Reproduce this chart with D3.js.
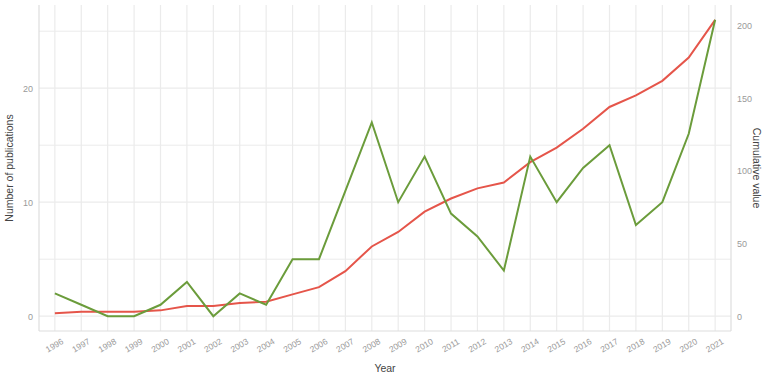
<!DOCTYPE html>
<html>
<head>
<meta charset="utf-8">
<script src="https://cdn.jsdelivr.net/npm/d3@7"></script>
<style>
  body { margin: 0; background: #fff; }
  svg { display: block; font-family: "Liberation Sans", Arial, sans-serif; }
</style>
</head>
<body>
<div id="chart"></div>
<script>
var years = ["1996", "1997", "1998", "1999", "2000", "2001", "2002", "2003", "2004", "2005", "2006", "2007", "2008",
  "2009", "2010", "2011", "2012", "2013", "2014", "2015", "2016", "2017", "2018", "2019", "2020", "2021"];
var publications = [2, 1, 0, 0, 1, 3, 0, 2, 1, 5, 5, 11, 17, 10, 14, 9, 7, 4, 14, 10, 13, 15, 8, 10, 16, 26];
var cumulative = [2, 3, 3, 3, 4, 7, 7, 9, 10, 15, 20, 31, 48, 58, 72, 81, 88, 92, 106, 116, 129, 144, 152, 162, 178, 204];
var leftTicks = [0, 10, 20];
var leftMinor = [5, 15, 25];
var rightTicks = [0, 50, 100, 150, 200];

var width = 768, height = 379;
var margin = { top: 5, left: 39, bottom: 48, right: 37 };
var plotW = width - margin.left - margin.right;
var plotH = height - margin.top - margin.bottom;

var svg = d3.select("#chart")
  .append("svg")
  .attr("width", width)
  .attr("height", height);

var g = svg.append("g")
  .attr("transform", "translate(" + margin.left + "," + margin.top + ")");

// discrete x with ggplot-like 0.6 expansion
var x = d3.scalePoint()
  .domain(years)
  .range([0, plotW])
  .padding(0.6);

var maxPub = d3.max(publications);
var maxCum = d3.max(cumulative);
var expand = maxPub * 0.05;
var y = d3.scaleLinear()
  .domain([-expand, maxPub + expand])
  .range([plotH, 0]);

// secondary axis scaled so cumulative max meets the annual max
var k = maxCum / maxPub;
var yRight = d3.scaleLinear()
  .domain([-expand * k, (maxPub + expand) * k])
  .range([plotH, 0]);

var gridColor = "#ebebeb";

// minor grid
g.selectAll(".minor")
  .data(leftMinor)
  .enter()
  .append("line")
  .attr("x1", 0)
  .attr("x2", plotW)
  .attr("y1", d => y(d))
  .attr("y2", d => y(d))
  .attr("stroke", gridColor)
  .attr("stroke-width", 1);

// major grid
g.selectAll(".major")
  .data(leftTicks)
  .enter()
  .append("line")
  .attr("x1", 0)
  .attr("x2", plotW)
  .attr("y1", d => y(d))
  .attr("y2", d => y(d))
  .attr("stroke", gridColor)
  .attr("stroke-width", 1.2);

// vertical grid
g.selectAll(".vgrid")
  .data(years)
  .enter()
  .append("line")
  .attr("x1", d => x(d))
  .attr("x2", d => x(d))
  .attr("y1", 0)
  .attr("y2", plotH)
  .attr("stroke", gridColor)
  .attr("stroke-width", 1.2);

// axis lines
var axisColor = "#dedede";
g.append("line").attr("x1", 0).attr("x2", 0).attr("y1", 0).attr("y2", plotH)
  .attr("stroke", axisColor).attr("stroke-width", 1.2);
g.append("line").attr("x1", 0).attr("x2", plotW).attr("y1", plotH).attr("y2", plotH)
  .attr("stroke", axisColor).attr("stroke-width", 1.2);
g.append("line").attr("x1", plotW).attr("x2", plotW).attr("y1", 0).attr("y2", plotH)
  .attr("stroke", axisColor).attr("stroke-width", 1.2);

// left axis labels
var leftAxis = g.append("g")
  .call(d3.axisLeft(y).tickValues(leftTicks).tickSize(0).tickPadding(6));
leftAxis.select(".domain").remove();
leftAxis.selectAll("text")
  .attr("fill", "#9a9a9a")
  .attr("font-size", "9px")
  .attr("font-family", "Liberation Sans, Arial, sans-serif");

// right axis labels
var rightAxis = g.append("g")
  .attr("transform", "translate(" + plotW + ",0)")
  .call(d3.axisRight(yRight).tickValues(rightTicks).tickSize(0).tickPadding(6));
rightAxis.select(".domain").remove();
rightAxis.selectAll("text")
  .attr("fill", "#9a9a9a")
  .attr("font-size", "9px")
  .attr("font-family", "Liberation Sans, Arial, sans-serif");

// bottom axis labels, rotated
g.selectAll(".xlab")
  .data(years)
  .enter()
  .append("text")
  .attr("transform", d => "translate(" + x(d) + "," + (plotH + 15) + ") rotate(-30)")
  .attr("text-anchor", "middle")
  .attr("dominant-baseline", "middle")
  .attr("fill", "#9a9a9a")
  .attr("font-size", "8.5px")
  .text(d => d);

// lines
var lineCum = d3.line()
  .x((d, i) => x(years[i]))
  .y(d => yRight(d));

var linePub = d3.line()
  .x((d, i) => x(years[i]))
  .y(d => y(d));

g.append("path")
  .datum(cumulative)
  .attr("d", lineCum)
  .attr("fill", "none")
  .attr("stroke", "#e5554a")
  .attr("stroke-width", 2);

g.append("path")
  .datum(publications)
  .attr("d", linePub)
  .attr("fill", "none")
  .attr("stroke", "#6b9c3b")
  .attr("stroke-width", 2);

// axis titles, centred on the panel
var midY = margin.top + plotH / 2;
svg.append("text")
  .attr("transform", "translate(13," + midY + ") rotate(-90)")
  .attr("text-anchor", "middle")
  .attr("fill", "#444")
  .attr("font-size", "10.5px")
  .text("Number of publications");

svg.append("text")
  .attr("transform", "translate(753," + midY + ") rotate(90)")
  .attr("text-anchor", "middle")
  .attr("fill", "#444")
  .attr("font-size", "10.5px")
  .text("Cumulative value");

svg.append("text")
  .attr("x", margin.left + plotW / 2)
  .attr("y", 372)
  .attr("text-anchor", "middle")
  .attr("fill", "#444")
  .attr("font-size", "10.5px")
  .text("Year");
</script>
</body>
</html>
